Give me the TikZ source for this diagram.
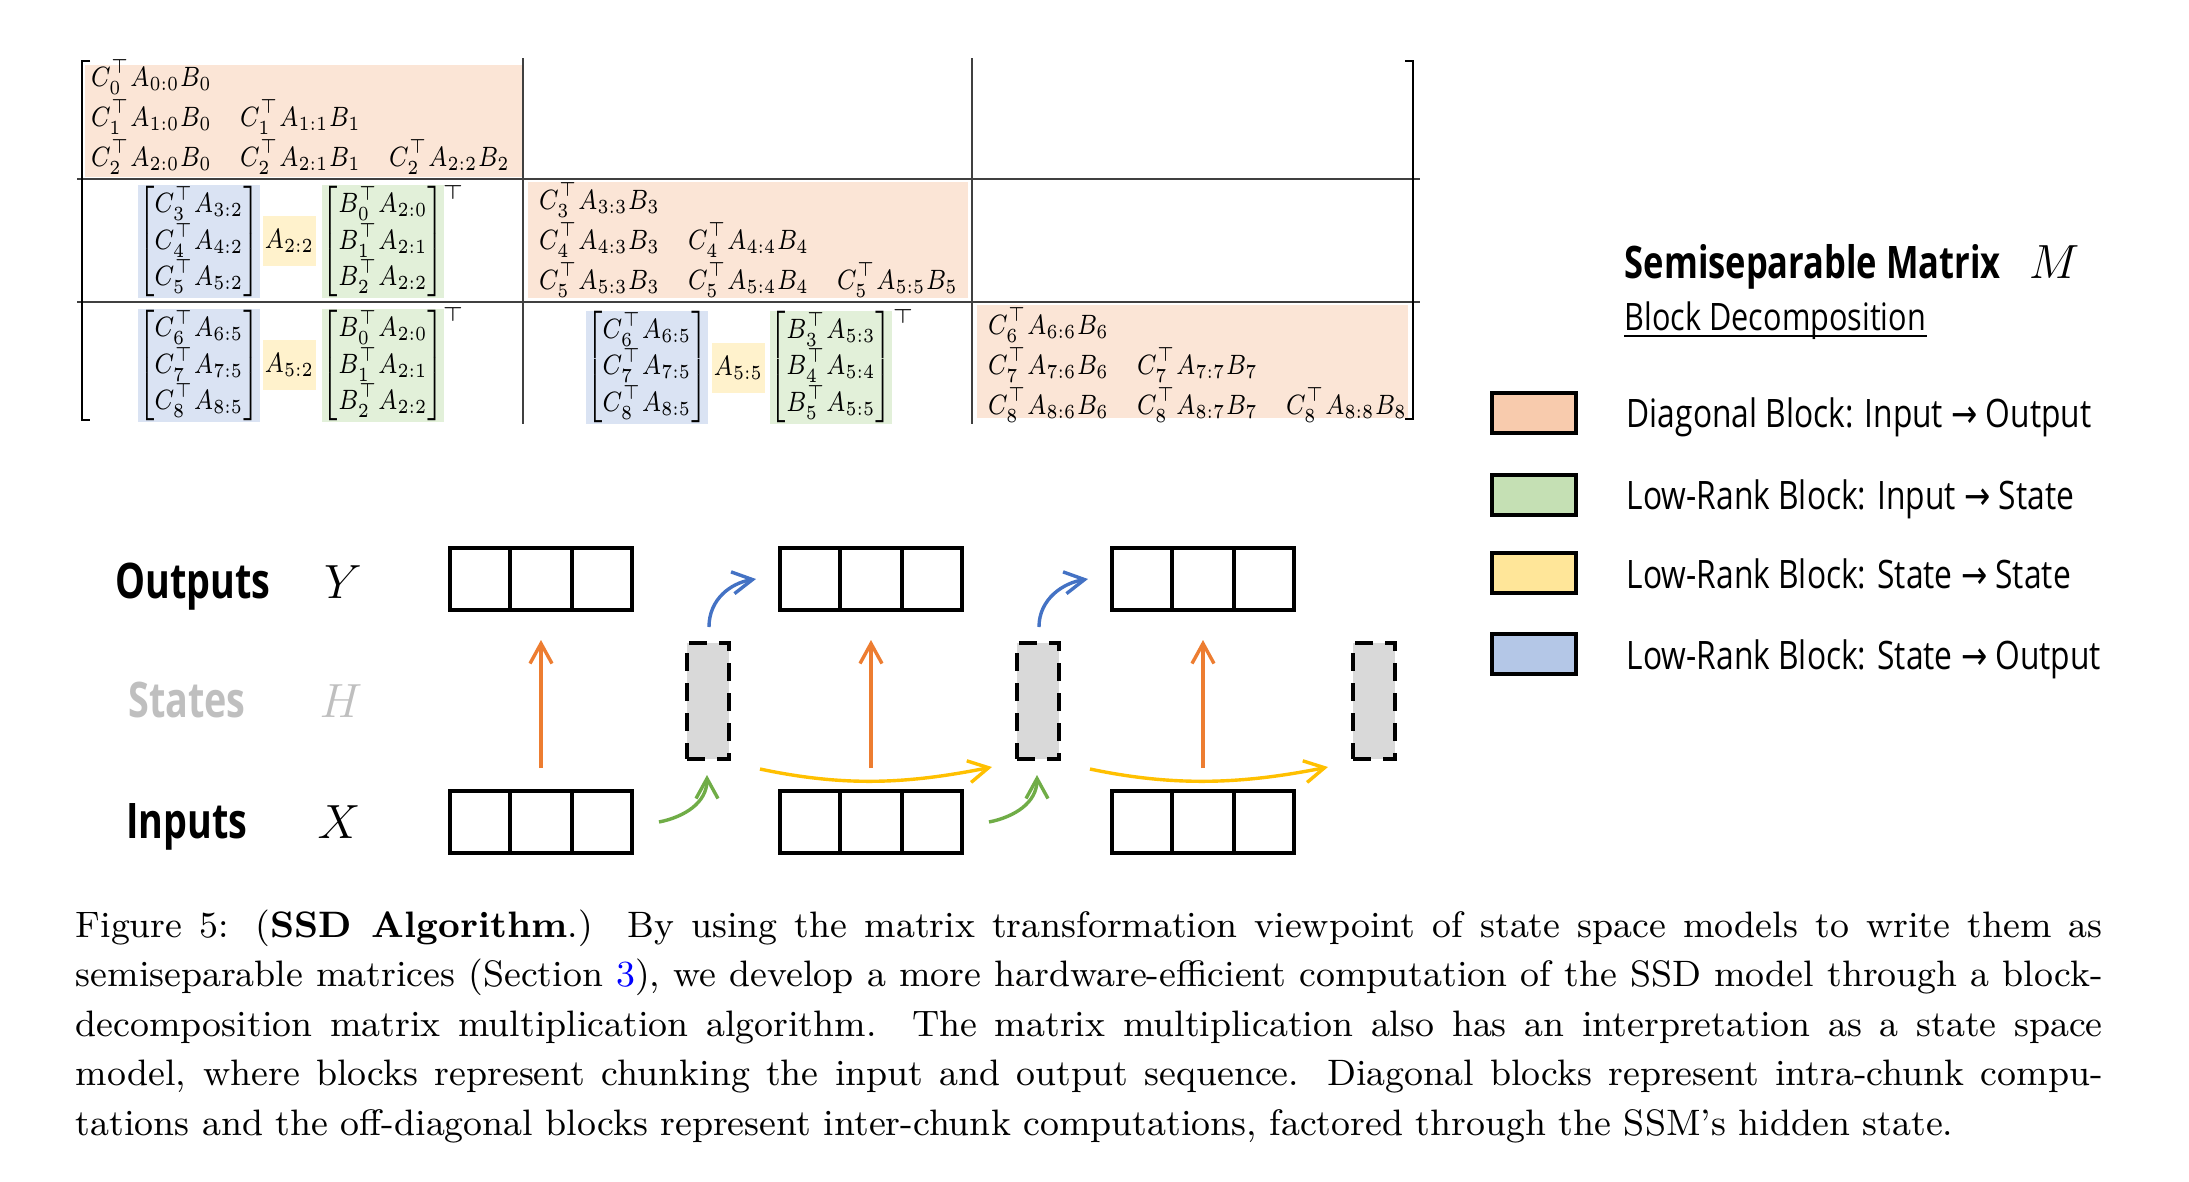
\documentclass[tikz,border=0pt]{standalone}
\usepackage{amsmath}
\usepackage{graphicx}
\usepackage{fontspec}
\setsansfont{Open Sans}[FakeStretch=0.77]
\newfontfamily\legsf{Open Sans}[FakeStretch=0.81]
\newfontfamily\arrowfont{DejaVu Sans}[FakeStretch=0.8]
\usetikzlibrary{arrows.meta,calc}
\definecolor{diagL}{HTML}{FBE5D6}
\definecolor{blueL}{HTML}{DAE3F3}
\definecolor{goldL}{HTML}{FFF2CC}
\definecolor{greenL}{HTML}{E2F0D9}
\definecolor{diagM}{HTML}{F8CBAD}
\definecolor{greenM}{HTML}{C5E0B4}
\definecolor{goldM}{HTML}{FFE699}
\definecolor{blueM}{HTML}{B4C7E7}
\definecolor{stateG}{HTML}{D9D9D9}
\definecolor{labelG}{HTML}{BFBFBF}
\definecolor{arrOrange}{HTML}{ED7D31}
\definecolor{arrBlue}{HTML}{4472C4}
\definecolor{arrGreen}{HTML}{70AD47}
\definecolor{arrGold}{HTML}{FFC000}
\definecolor{linkblue}{HTML}{0000FF}
\newcommand\mfont{\fontsize{6.6}{8.8}\selectfont}
\newcommand\sq[1]{\scalebox{0.81}[1]{#1}}
\newcommand\legfont{\legsf\fontsize{9.8}{11}\selectfont}
\newcommand\rowfont{\sffamily\bfseries\fontsize{12.25}{14}\selectfont}
\newcommand\symfont{\fontsize{12}{14}\selectfont}
\newcommand\legarrow{{\arrowfont →}}
\begin{document}
\begin{tikzpicture}[x=0.25pt,y=-0.25pt,
  entry/.style={anchor=base west,inner sep=0pt,font=\mfont},
  lowrank/.style={inner sep=0pt,font=\mfont,minimum width=29.5pt,minimum height=28.25pt},
  lrblue/.style={lowrank,fill=blueL},
  lrgreen/.style={lowrank,fill=greenL},
  lrgold/.style={inner sep=0pt,font=\mfont,fill=goldL,minimum width=13.25pt,minimum height=12.5pt},
  tsup/.style={inner sep=0pt,font=\mfont},
  gridline/.style={black!75,line width=0.5pt},
  bracketline/.style={black,line width=0.6pt},
  chunk/.style={draw=black,line width=1pt,minimum width=45.5pt,minimum height=15.5pt,inner sep=0pt},
  divider/.style={black,line width=1pt},
  statebox/.style={draw=black,fill=stateG,line width=1pt,dash pattern=on 4.5pt off 3pt,minimum width=10.5pt,minimum height=29pt,inner sep=0pt},
  flow/.style={line width=0.85pt,-{Straight Barb[length=5pt,width=5.5pt]}},
  legbox/.style={draw=black,line width=0.8pt,minimum width=21pt,minimum height=10pt,inner sep=0pt},
  legtext/.style={anchor=base west,inner sep=0pt,font=\legfont},
  rowlabel/.style={anchor=base,inner sep=0pt,font=\rowfont},
  symlabel/.style={anchor=base,inner sep=0pt,font=\symfont}
]
\path[fill=white] (0,0) rectangle (2189,1181);
\useasboundingbox (0,0) rectangle (2189,1181);

% ---------- block matrix ----------
\fill[diagL] (85,65) rectangle (522,177);
\fill[diagL] (528,182) rectangle (968,298);
\fill[diagL] (977,305) rectangle (1408,418);

\draw[gridline] (77,179) -- (1420,179);
\draw[gridline] (77,302) -- (1420,302);
\draw[gridline] (523,58) -- (523,424);
\draw[gridline] (972,58) -- (972,424);
\draw[bracketline] (90,61) -- (82,61) -- (82,420) -- (90,420);
\draw[bracketline] (1405,61) -- (1413,61) -- (1413,419) -- (1405,419);

\foreach \b/\bx/\by in {0/90/86,1/538/209,2/987/334}{
  \foreach \r in {0,1,2}{
    \foreach \c in {0,...,\r}{
      \pgfmathtruncatemacro\ii{3*\b+\r}
      \pgfmathtruncatemacro\jj{3*\b+\c}
      \node[entry] (e\ii\jj) at ({\bx+149*\c},{\by+40*\r}) {\sq{$C_{\ii}^{\top}A_{\ii:\jj}B_{\jj}$}};
    }
  }
}

% low-rank blocks, row 2
\node[lrblue] (u1) at (199,241.5) {\sq{$\begin{bmatrix}C_3^\top A_{3:2}\\C_4^\top A_{4:2}\\C_5^\top A_{5:2}\end{bmatrix}$}};
\node[lrgold] (a1) at (289.5,241) {\sq{$A_{2:2}$}};
\node[lrgreen] (w1) at (383,241.5) {\sq{$\begin{bmatrix}B_0^\top A_{2:0}\\B_1^\top A_{2:1}\\B_2^\top A_{2:2}\end{bmatrix}$}};
\node[tsup] (t1) at (453,193) {$\scriptstyle\top$};
% row 3, col 1
\node[lrblue] (u2) at (199,365.5) {\sq{$\begin{bmatrix}C_6^\top A_{6:5}\\C_7^\top A_{7:5}\\C_8^\top A_{8:5}\end{bmatrix}$}};
\node[lrgold] (a2) at (289.5,365) {\sq{$A_{5:2}$}};
\node[lrgreen] (w2) at (383,365.5) {\sq{$\begin{bmatrix}B_0^\top A_{2:0}\\B_1^\top A_{2:1}\\B_2^\top A_{2:2}\end{bmatrix}$}};
\node[tsup] (t2) at (453,315) {$\scriptstyle\top$};
% row 3, col 2
\node[lrblue] (u3) at (647,367) {\sq{$\begin{bmatrix}C_6^\top A_{6:5}\\C_7^\top A_{7:5}\\C_8^\top A_{8:5}\end{bmatrix}$}};
\node[lrgold] (a3) at (738.5,368) {\sq{$A_{5:5}$}};
\node[lrgreen] (w3) at (831,367) {\sq{$\begin{bmatrix}B_3^\top A_{5:3}\\B_4^\top A_{5:4}\\B_5^\top A_{5:5}\end{bmatrix}$}};
\node[tsup] (t3) at (903,317) {$\scriptstyle\top$};

% ---------- legend ----------
\node[anchor=base west,inner sep=0pt,font=\sffamily\bfseries\fontsize{11.2}{13}\selectfont] (ltitle) at (1624,278) {Semiseparable Matrix};
\node[anchor=base west,inner sep=0pt,font=\fontsize{11.7}{13}\selectfont] (lM) at (2028,278) {$M$};
\node[anchor=base west,inner sep=0pt,font=\legsf\fontsize{9.45}{11}\selectfont] (lsub) at (1624,330) {Block Decomposition};
\draw[line width=0.6pt] ($(lsub.base west)+(0,6)$) -- ($(lsub.base east)+(0,6)$);

\node[legbox,fill=diagM] (k1) at (1534,413) {};
\node[legbox,fill=greenM] (k2) at (1534,495) {};
\node[legbox,fill=goldM] (k3) at (1534,573) {};
\node[legbox,fill=blueM] (k4) at (1534,654) {};
\node[legtext] (l1) at (1626,427) {Diagonal Block: Input \legarrow\ Output};
\node[legtext] (l2) at (1626,509) {Low-Rank Block: Input \legarrow\ State};
\node[legtext] (l3) at (1626,588) {Low-Rank Block: State \legarrow\ State};
\node[legtext] (l4) at (1626,669) {Low-Rank Block: State \legarrow\ Output};

% ---------- state space view ----------
\node[rowlabel] (lo) at (193,598) {Outputs};
\node[symlabel] (ly) at (343,598) {$Y$};
\node[rowlabel,text=labelG] (ls) at (187,717) {States};
\node[symlabel,text=labelG] (lh) at (341,717) {$H$};
\node[rowlabel] (li) at (187,838) {Inputs};
\node[symlabel] (lx) at (339,838) {$X$};

\foreach \i/\cx in {1/541,2/871,3/1203}{
  \node[chunk] (y\i) at (\cx,579) {};
  \node[chunk] (x\i) at (\cx,822) {};
  \draw[divider] ($(y\i.north west)!1/3!(y\i.north east)$) -- ($(y\i.south west)!1/3!(y\i.south east)$);
  \draw[divider] ($(y\i.north west)!2/3!(y\i.north east)$) -- ($(y\i.south west)!2/3!(y\i.south east)$);
  \draw[divider] ($(x\i.north west)!1/3!(x\i.north east)$) -- ($(x\i.south west)!1/3!(x\i.south east)$);
  \draw[divider] ($(x\i.north west)!2/3!(x\i.north east)$) -- ($(x\i.south west)!2/3!(x\i.south east)$);
  \draw[flow,arrOrange] ($(x\i.north)+(0,-21)$) -- ($(y\i.south)+(0,28)$);
}
\node[statebox] (h1) at (708,701) {};
\node[statebox] (h2) at (1038,701) {};
\node[statebox] (h3) at (1374,701) {};

\foreach \a/\b in {1/2,2/3}{
  \draw[flow,arrBlue] ($(h\a.north)+(1,-14)$) .. controls +(0,-28) and +(-25,4) .. ($(y\b.west)+(-22,0)$);
  \draw[flow,arrGreen] ($(x\a.east)+(25,0)$) .. controls +(25,-5) and +(0,28) .. ($(h\a.south)+(-1,14)$);
  \draw[flow,arrGold] ($(h\a.south east)+(29,8)$) .. controls +(85,18) and +(-85,17) .. ($(h\b.south west)+(-23,6)$);
}

% ---------- caption ----------
\node[anchor=base west,inner sep=0pt] (caption) at (75,937) {\parbox[t]{506.75pt}{\fontsize{9.2}{12.4}\selectfont
\makebox[\linewidth][s]{Figure 5: (\textbf{SSD Algorithm}.)\ \ By using the matrix transformation viewpoint of state space models to write them as}\\
\makebox[\linewidth][s]{semiseparable matrices (Section \textcolor{linkblue}{3}), we develop a more hardware-efficient computation of the SSD model through a block-}\\
\makebox[\linewidth][s]{decomposition matrix multiplication algorithm.\ \ The matrix multiplication also has an interpretation as a state space}\\
\makebox[\linewidth][s]{model, where blocks represent chunking the input and output sequence. Diagonal blocks represent intra-chunk compu-}\\
tations and the off-diagonal blocks represent inter-chunk computations, factored through the SSM’s hidden state.}};
\end{tikzpicture}
\end{document}
